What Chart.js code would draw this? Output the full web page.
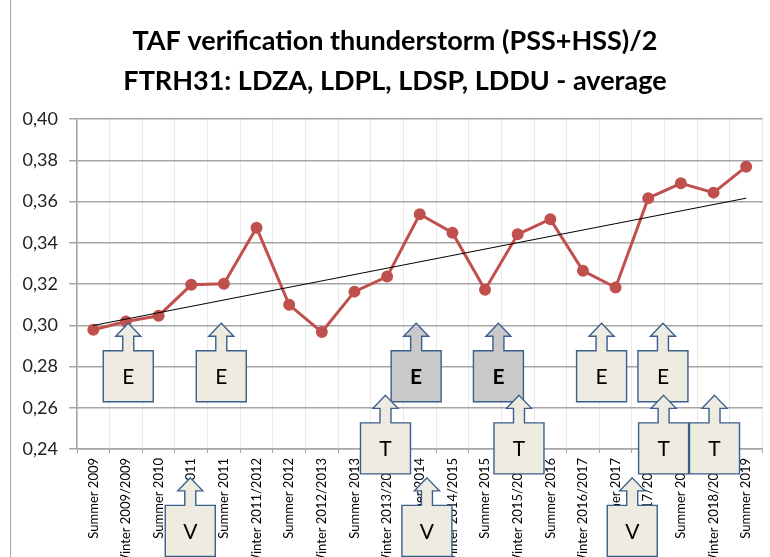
<!DOCTYPE html>
<html>
<head>
<meta charset="utf-8">
<script src="https://cdn.jsdelivr.net/npm/chart.js@4.4.0/dist/chart.umd.min.js"></script>
<style>
  html,body{margin:0;padding:0;background:#fff;overflow:hidden;}
  #wrap{position:relative;width:770px;height:557px;}
</style>
</head>
<body>
<div id="wrap"><canvas id="c"></canvas></div>
<script>
/* ================= DATA ================= */
const periods = [
  'Summer 2009','Winter 2009/2009','Summer 2010','Winter 2010/2011','Summer 2011',
  'Winter 2011/2012','Summer 2012','Winter 2012/2013','Summer 2013','Winter 2013/2014',
  'Summer 2014','Winter 2014/2015','Summer 2015','Winter 2015/2016','Summer 2016',
  'Winter 2016/2017','Summer 2017','Winter 2017/2018','Summer 2018','Winter 2018/2019','Summer 2019'
];
const scoreAvg = [
  0.2978, 0.3018, 0.3046, 0.3196, 0.3201, 0.3473, 0.3099, 0.2967, 0.3163, 0.3236,
  0.3538, 0.3449, 0.3172, 0.3441, 0.3514, 0.3264, 0.3183, 0.3616, 0.3688, 0.3643, 0.3769
];
// linear trend, start and end values
const trendStart = 0.2999;
const trendEnd = 0.3616;
const yTicks = [0.24, 0.26, 0.28, 0.30, 0.32, 0.34, 0.36, 0.38, 0.40];
const titleLines = ['TAF verification thunderstorm (PSS+HSS)/2', 'FTRH31: LDZA, LDPL, LDSP, LDDU - average'];

// callout arrows (E / T / V): label, category position of the arrow tip, value of the tip, shaded or not
const calloutText   = ['E','E','E','E','E','E','T','T','T','T','V','V','V'];
const calloutAt     = [1.07, 3.92, 9.89, 12.41, 15.57, 17.45, 8.95, 13.04, 17.47, 19.03, 2.97, 10.22, 16.51];
const calloutTip    = [0.301,0.301,0.301,0.301,0.301,0.301, 0.266,0.266,0.266,0.266, 0.226,0.226,0.226];
const calloutShaded = [false,false,true,true,false,false, false,false,false,false, false,false,false];

/* ================= PLUGINS ================= */
function drawCallout(ctx, cx, tipY, text, shaded){
  const headH = 13, shaftH = 14.5, headHalf = 12.5, shaftHalf = 5.5, boxHalf = 25, boxH = 51;
  const y1 = tipY + headH, y2 = y1 + shaftH, y3 = y2 + boxH;
  ctx.beginPath();
  ctx.moveTo(cx, tipY);
  ctx.lineTo(cx + headHalf, y1); ctx.lineTo(cx + shaftHalf, y1); ctx.lineTo(cx + shaftHalf, y2);
  ctx.lineTo(cx + boxHalf, y2);  ctx.lineTo(cx + boxHalf, y3);   ctx.lineTo(cx - boxHalf, y3);
  ctx.lineTo(cx - boxHalf, y2);  ctx.lineTo(cx - shaftHalf, y2); ctx.lineTo(cx - shaftHalf, y1);
  ctx.lineTo(cx - headHalf, y1);
  ctx.closePath();
  ctx.fillStyle = shaded ? '#c9c9c9' : '#eeece1';
  ctx.fill();
  ctx.lineWidth = 1.4;
  ctx.strokeStyle = '#3b5f8c';
  ctx.stroke();
  ctx.fillStyle = '#000';
  ctx.font = (shaded ? 'bold ' : '') + '21px Lato, sans-serif';
  ctx.textAlign = 'center';
  ctx.textBaseline = 'middle';
  ctx.fillText(text, cx, (y2 + y3) / 2 + 1);
}

const decorations = {
  id: 'decorations',
  afterDraw(chart){
    const {ctx, scales:{x, y}} = chart;
    ctx.save();
    // chart frame line on the left
    ctx.strokeStyle = '#a6a6a6'; ctx.lineWidth = 1;
    ctx.beginPath(); ctx.moveTo(10.5, 0); ctx.lineTo(10.5, chart.height); ctx.stroke();
    // two-line title, centred like the original
    ctx.fillStyle = '#000';
    ctx.font = 'bold 27px Lato, sans-serif';
    ctx.textAlign = 'center';
    ctx.textBaseline = 'middle';
    titleLines.forEach((t, i) => ctx.fillText(t, 395, 41 + i * 40));
    // E / T / V callouts
    calloutText.forEach((t, i) => {
      drawCallout(ctx, x.getPixelForValue(calloutAt[i]), y.getPixelForValue(calloutTip[i]), t, calloutShaded[i]);
    });
    ctx.restore();
  }
};

/* ================= CHART ================= */
const trendData = periods.map((p, i) => i === 0 ? trendStart : (i === periods.length - 1 ? trendEnd : null));

new Chart(document.getElementById('c'), {
  type: 'line',
  data: {
    labels: periods,
    datasets: [
      {label:'Trend', data: trendData, borderColor:'#000', borderWidth:1, pointRadius:0, spanGaps:true, order:0},
      {label:'Average', data: scoreAvg, borderColor:'#c0504d', backgroundColor:'#c0504d', borderWidth:3,
       pointRadius:4.5, pointBackgroundColor:'#c0504d', pointBorderColor:'#c0504d', tension:0, order:1}
    ]
  },
  options: {
    responsive: true, maintainAspectRatio: false, animation: false,
    layout: { padding: {left:0, right:5, top:119, bottom:0} },
    plugins: {
      legend: {display:false},
      tooltip: {enabled:false},
      title: {display:false}
    },
    scales: {
      x: {
        offset: true,
        grid: {offset:true, color:'#e9e9e9', lineWidth:1, tickLength:4, tickColor:'#a6a6a6'},
        border: {color:'#a6a6a6', width:1.5},
        ticks: {autoSkip:false, minRotation:90, maxRotation:90, padding:5, color:'#000',
                font:{family:'Lato, sans-serif', size:13}},
        afterFit: s => { s.height = 108; }
      },
      y: {
        min: 0.24, max: 0.40,
        afterBuildTicks: s => { s.ticks = yTicks.map(v => ({value:v})); },
        grid: {color:'#a6a6a6', lineWidth:1.5, tickLength:8},
        border: {color:'#a6a6a6', width:1.5},
        ticks: {padding:11, color:'#222', font:{family:'Lato, sans-serif', size:18},
                callback: v => v.toFixed(2).replace('.', ',')},
        afterFit: s => { s.width = 77; }
      }
    }
  },
  plugins: [decorations]
});
</script>
</body>
</html>
